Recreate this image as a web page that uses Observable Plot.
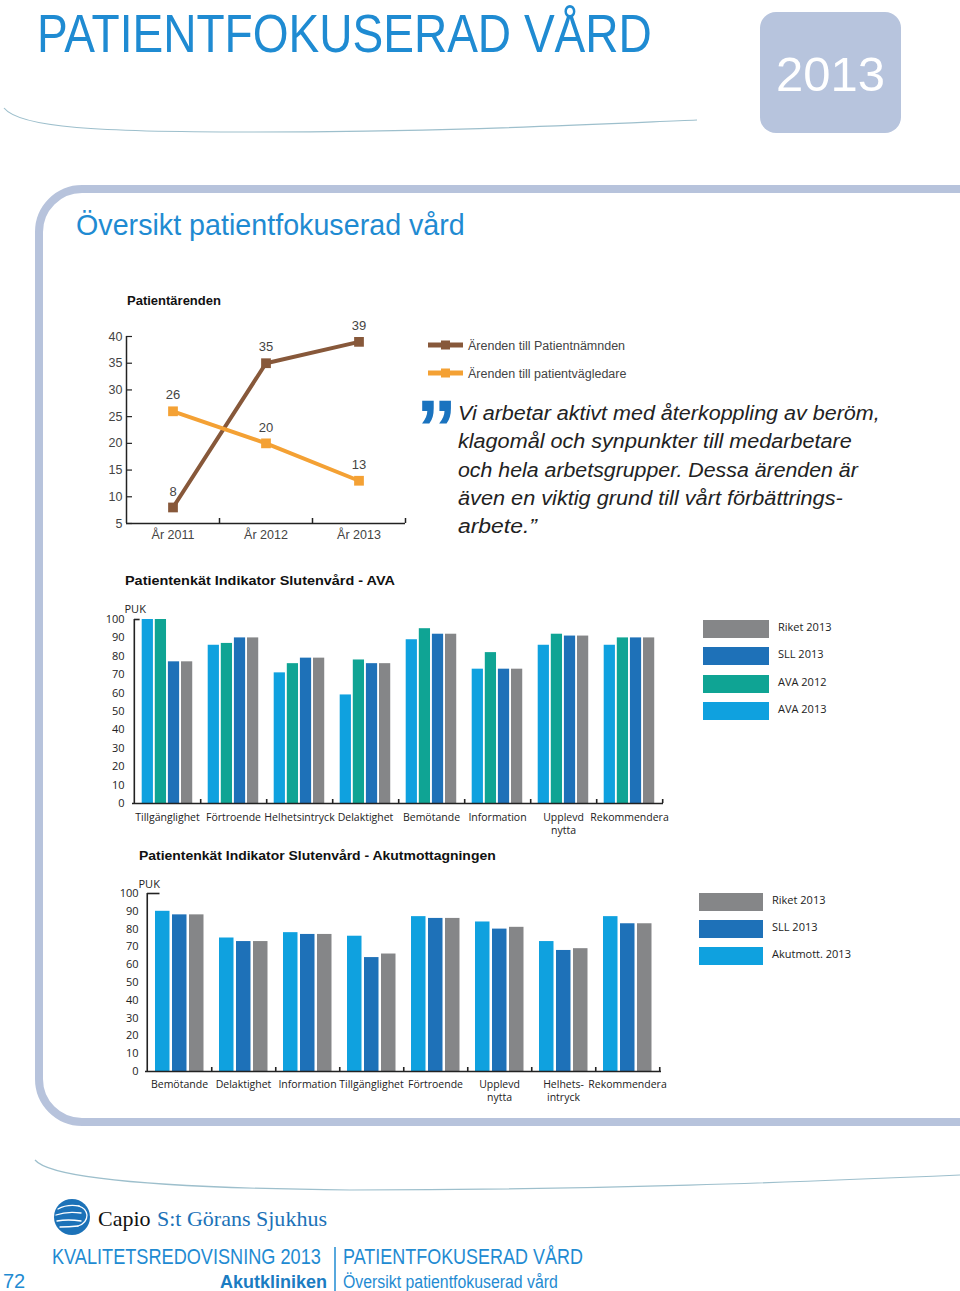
<!DOCTYPE html>
<html><head><meta charset="utf-8">
<script src="https://cdn.jsdelivr.net/npm/d3@7"></script>
<script src="https://cdn.jsdelivr.net/npm/@observablehq/plot@0.6"></script>
<style>
html,body{margin:0;padding:0;background:#fff;}
#page{position:relative;width:960px;height:1291px;overflow:hidden;font-family:"Liberation Sans",Arial,sans-serif;}
.abs{position:absolute;}
.leg{position:absolute;font-family:"Open Sans",sans-serif;font-size:11px;color:#222;}
.leg .sw{position:absolute;height:18px;}
.leg .lb{position:absolute;white-space:nowrap;line-height:15px;}
</style></head>
<body><div id="page"><svg id="deco" class="abs" width="960" height="1291" style="left:0;top:0"></svg></div>
<script>
// ---------- DATA ----------
const years = ["År 2011", "År 2012", "År 2013"];
const patientnamnden = [8, 35, 39];
const patientvagledare = [26, 20, 13];
const lineSeries = ["Ärenden till Patientnämnden", "Ärenden till patientvägledare"];
const lineColors = ["#87583a", "#f4a134"];
const lineTicks = [5, 10, 15, 20, 25, 30, 35, 40];

const avaCategories = ["Tillgänglighet", "Förtroende", "Helhetsintryck", "Delaktighet", "Bemötande", "Information", "Upplevd nytta", "Rekommendera"];
const avaTickLabels = ["Tillgänglighet", "Förtroende", "Helhetsintryck", "Delaktighet", "Bemötande", "Information", "Upplevd\nnytta", "Rekommendera"];
const avaSeries = ["AVA 2013", "AVA 2012", "SLL 2013", "Riket 2013"];
const avaColors = ["#0fa1df", "#0fa494", "#1e71b8", "#858688"];
const ava2013 = [100, 86, 71, 59, 89, 73, 86, 86];
const ava2012 = [100, 87, 76, 78, 95, 82, 92, 90];
const avaSll2013 = [77, 90, 79, 76, 92, 73, 91, 90];
const avaRiket2013 = [77, 90, 79, 76, 92, 73, 91, 90];

const akutCategories = ["Bemötande", "Delaktighet", "Information", "Tillgänglighet", "Förtroende", "Upplevd nytta", "Helhetsintryck", "Rekommendera"];
const akutTickLabels = ["Bemötande", "Delaktighet", "Information", "Tillgänglighet", "Förtroende", "Upplevd\nnytta", "Helhets-\nintryck", "Rekommendera"];
const akutSeries = ["Akutmott. 2013", "SLL 2013", "Riket 2013"];
const akutColors = ["#0fa1df", "#1e71b8", "#858688"];
const akut2013 = [90, 75, 78, 76, 87, 84, 73, 87];
const akutSll2013 = [88, 73, 77, 64, 86, 80, 68, 83];
const akutRiket2013 = [88, 73, 77, 66, 86, 81, 69, 83];

const pukTicks = [0, 10, 20, 30, 40, 50, 60, 70, 80, 90, 100];

const quoteLines = ["Vi arbetar aktivt med återkoppling av beröm,", "klagomål och synpunkter till medarbetare", "och hela arbetsgrupper. Dessa ärenden är", "även en viktig grund till vårt förbättrings-", "arbete.”"];

// ---------- DECORATION ----------
const BLUE = "#1f8bd2";
const page = document.getElementById("page");
const deco = document.getElementById("deco");
const qLen = [422, 394, 400, 385, 79];
let s = "";
s += `<text x="37" y="52" font-size="54" fill="${BLUE}" data-w="615">PATIENTFOKUSERAD VÅRD</text>`;
s += `<rect x="760" y="12" width="141" height="121" rx="16" fill="#b7c4dd"/>`;
s += `<text x="776" y="91" font-size="48" fill="#fff" data-w="109">2013</text>`;
s += `<path d="M4,108 C20,128 100,132 250,132 C450,132 600,124 697,120" fill="none" stroke="#9dbfcc" stroke-width="1.2"/>`;
s += `<path d="M960,189 H82 A43,43 0 0 0 39,232 V1079 A43,43 0 0 0 82,1122 H960" fill="none" stroke="#b7c3dc" stroke-width="8"/>`;
s += `<text x="76" y="235" font-size="29" fill="${BLUE}" data-w="389">Översikt patientfokuserad vård</text>`;
s += `<text x="127" y="305" font-size="13" font-weight="bold" fill="#111">Patientärenden</text>`;
// line legend
lineSeries.forEach((name, i) => {
  const y = 345 + i * 28;
  s += `<line x1="428" x2="463" y1="${y}" y2="${y}" stroke="${lineColors[i]}" stroke-width="5"/>`;
  s += `<rect x="441" y="${y - 4.5}" width="9" height="9" fill="${lineColors[i]}"/>`;
  s += `<text x="468" y="${y + 4.5}" font-size="12.5" fill="#444">${name}</text>`;
});
s += `<text x="416" y="457" font-size="82" font-weight="bold" fill="#1a73bf">”</text>`;
quoteLines.forEach((t, i) => {
  s += `<text x="458" y="${420 + i * 28.3}" font-size="21" font-style="italic" fill="#222" data-w="${qLen[i]}">${t}</text>`;
});
s += `<text x="125" y="585" font-size="13.5" font-weight="bold" fill="#111" data-w="270">Patientenkät Indikator Slutenvård - AVA</text>`;
s += `<text x="139" y="860" font-size="13.5" font-weight="bold" fill="#111" data-w="357">Patientenkät Indikator Slutenvård - Akutmottagningen</text>`;
// footer
s += `<path d="M35,1160 C50,1178 150,1188 350,1190 C600,1190 800,1182 960,1175" fill="none" stroke="#9dbfcc" stroke-width="1.2"/>`;
s += `<circle cx="72" cy="1217" r="18" fill="#1c72b8"/>`;
s += `<g fill="none" stroke="#fff" stroke-width="1.3" stroke-linecap="round">
  <path d="M58,1209 q9,-5 21,-3"/><path d="M56,1215 q11,-4 25,-2"/><path d="M57,1221 q11,-2 24,0"/><path d="M60,1227 q9,0 18,-1"/>
  <path d="M79,1206 q7,2 8,9 q0,8 -9,11"/></g>`;
s += `<text x="98" y="1226" font-family="Liberation Serif, serif" font-size="22" fill="#111">Capio</text>`;
s += `<text x="157" y="1226" font-family="Liberation Serif, serif" font-size="22" fill="#1c72b8" data-w="170">S:t Görans Sjukhus</text>`;
s += `<text x="52" y="1264" font-size="22" fill="${BLUE}" data-w="269">KVALITETSREDOVISNING 2013</text>`;
s += `<line x1="335" x2="335" y1="1247" y2="1291" stroke="${BLUE}" stroke-width="1.5"/>`;
s += `<text x="343" y="1264" font-size="22" fill="${BLUE}" data-w="240">PATIENTFOKUSERAD VÅRD</text>`;
s += `<text x="220" y="1288" font-size="19" font-weight="bold" fill="#1b7cc2" data-w="107">Akutkliniken</text>`;
s += `<text x="343" y="1288" font-size="18" fill="${BLUE}" data-w="215">Översikt patientfokuserad vård</text>`;
s += `<text x="3" y="1288" font-size="20" fill="${BLUE}">72</text>`;
deco.innerHTML = s;
// fit texts horizontally to their measured reference widths
deco.querySelectorAll("text[data-w]").forEach(el => {
  const w = el.getComputedTextLength();
  const k = (+el.getAttribute("data-w")) / w;
  const x = +el.getAttribute("x"), y = +el.getAttribute("y");
  el.setAttribute("x", 0);
  el.setAttribute("y", 0);
  el.setAttribute("transform", `translate(${x},${y}) scale(${k},1)`);
});

function place(node, left, top) {
  const d = document.createElement("div");
  d.className = "abs";
  d.style.left = left + "px";
  d.style.top = top + "px";
  d.appendChild(node);
  page.appendChild(d);
}

// ---------- LINE CHART ----------
const lineRows = [];
years.forEach((y, j) => {
  lineRows.push({year: y, series: lineSeries[0], value: patientnamnden[j]});
  lineRows.push({year: y, series: lineSeries[1], value: patientvagledare[j]});
});
const LW = 325, LH = 235, LML = 36, LMR = 10, LMT = 26, LMB = 22;
const lstep = (LW - LML - LMR) / years.length;
const lPx = (LH - LMT - LMB) / (40 - 5);
const lineChart = Plot.plot({
  width: LW, height: LH, marginLeft: LML, marginRight: LMR, marginTop: LMT, marginBottom: LMB,
  style: {background: "transparent", fontFamily: "Liberation Sans, Arial, sans-serif", fontSize: "12.5px", color: "#444", overflow: "visible"},
  x: {type: "band", domain: years, padding: 0},
  y: {domain: [5, 40]},
  color: {domain: lineSeries, range: lineColors},
  marks: [
    Plot.axisY({ticks: lineTicks, tickSize: 0, tickPadding: 4, label: null}),
    Plot.axisX({tickSize: 0, tickPadding: 7, label: null}),
    Plot.ruleY([5], {stroke: "#222", strokeWidth: 1.5}),
    Plot.ruleX([years[0]], {x: d => d, dx: -lstep / 2, y1: 5, y2: 40, stroke: "#222", strokeWidth: 1.5}),
    Plot.ruleX(years, {x: d => d, dx: lstep / 2, y1: 5, y2: 5 + 5 / lPx, stroke: "#222", strokeWidth: 1.5}),
    Plot.tickY(lineTicks, {y: d => d, x: () => years[0], insetRight: lstep - 6, stroke: "#222", strokeWidth: 1.2}),
    Plot.line(lineRows.filter(d => d.series === lineSeries[0]), {x: "year", y: "value", stroke: "series", strokeWidth: 4}),
    Plot.line(lineRows.filter(d => d.series === lineSeries[1]), {x: "year", y: "value", stroke: "series", strokeWidth: 4}),
    Plot.dot(lineRows, {x: "year", y: "value", fill: "series", symbol: "square", r: 5.5}),
    Plot.text(lineRows, {x: "year", y: "value", text: "value", dy: -16, fill: "#444", fontSize: 13})
  ]
});
place(lineChart, 90, 310);

// ---------- BAR CHARTS ----------
function barChart(o) {
  const plotW = o.width - o.ml - o.mr;
  const plotH = o.height - o.mt - o.mb;
  const step = plotW / o.cats.length;
  const marks = [];
  o.series.forEach((name, i) => {
    const left = o.padL + i * (o.barW + o.gap);
    const rows = o.cats.map((c, j) => ({cat: c, series: name, value: o.values[i][j]}));
    marks.push(Plot.barY(rows, {x: "cat", y: "value", fill: o.colors[i], insetLeft: left, insetRight: step - left - o.barW}));
  });
  marks.push(Plot.axisY({ticks: pukTicks, tickSize: 0, tickPadding: o.yPad, label: null}));
  marks.push(Plot.axisX({tickSize: 0, tickPadding: o.xPad, label: null, lineHeight: 1.25, fontSize: 10.5,
    tickFormat: d => o.labels[o.cats.indexOf(d)]}));
  marks.push(Plot.ruleY([0], {stroke: "#222", strokeWidth: 1.6}));
  marks.push(Plot.ruleX([o.cats[0]], {x: d => d, dx: -step / 2, y1: 0, y2: 100, stroke: "#222", strokeWidth: 1.6}));
  marks.push(Plot.ruleX(o.cats, {x: d => d, dx: step / 2, y1: 0, y2: 4 / plotH * 100, stroke: "#222", strokeWidth: 1.6}));
  marks.push(Plot.tickY([100], {y: d => d, x: () => o.cats[0], insetRight: step - o.topTick, stroke: "#222", strokeWidth: 1.6}));
  marks.push(Plot.text(["PUK"], {frameAnchor: "top-left", dx: o.pukDx, dy: o.pukDy, textAnchor: "start", fill: "#222"}));
  return Plot.plot({
    width: o.width, height: o.height, marginLeft: o.ml, marginRight: o.mr, marginTop: o.mt, marginBottom: o.mb,
    style: {background: "transparent", fontFamily: "Open Sans, sans-serif", fontSize: "11px", color: "#222", overflow: "visible"},
    x: {type: "band", domain: o.cats, padding: 0},
    y: {domain: [0, 100]},
    marks
  });
}

const chart1 = barChart({
  cats: avaCategories, labels: avaTickLabels, series: avaSeries, colors: avaColors,
  values: [ava2013, ava2012, avaSll2013, avaRiket2013],
  width: 590, height: 250, ml: 42, mr: 17, mt: 24, mb: 42,
  padL: 7.7, barW: 11.6, gap: 1.5, yPad: 8, xPad: 8, topTick: 6, pukDx: -8, pukDy: -14
});
place(chart1, 90, 595);

const chart2 = barChart({
  cats: akutCategories, labels: akutTickLabels, series: akutSeries, colors: akutColors,
  values: [akut2013, akutSll2013, akutRiket2013],
  width: 580, height: 240, ml: 45, mr: 19, mt: 23, mb: 39,
  padL: 8, barW: 15, gap: 2, yPad: 7, xPad: 7, topTick: 13, pukDx: -7, pukDy: -13
});
place(chart2, 100, 870);

// ---------- LEGENDS ----------
function legend(series, colors, left, top, swW, textLeft, spacing) {
  const div = document.createElement("div");
  div.className = "leg";
  div.style.left = left + "px";
  div.style.top = top + "px";
  const order = series.map((d, i) => i).reverse();
  order.forEach((i, k) => {
    const sw = document.createElement("div");
    sw.className = "sw";
    sw.style.left = "0px";
    sw.style.top = (k * spacing) + "px";
    sw.style.width = swW + "px";
    sw.style.background = colors[i];
    div.appendChild(sw);
    const lb = document.createElement("div");
    lb.className = "lb";
    lb.style.left = textLeft + "px";
    lb.style.top = (k * spacing - 1) + "px";
    lb.textContent = series[i];
    div.appendChild(lb);
  });
  page.appendChild(div);
}
legend(avaSeries, avaColors, 703, 620, 66, 75, 27.4);
legend(akutSeries, akutColors, 699, 893, 64, 73, 27);
</script></body></html>
